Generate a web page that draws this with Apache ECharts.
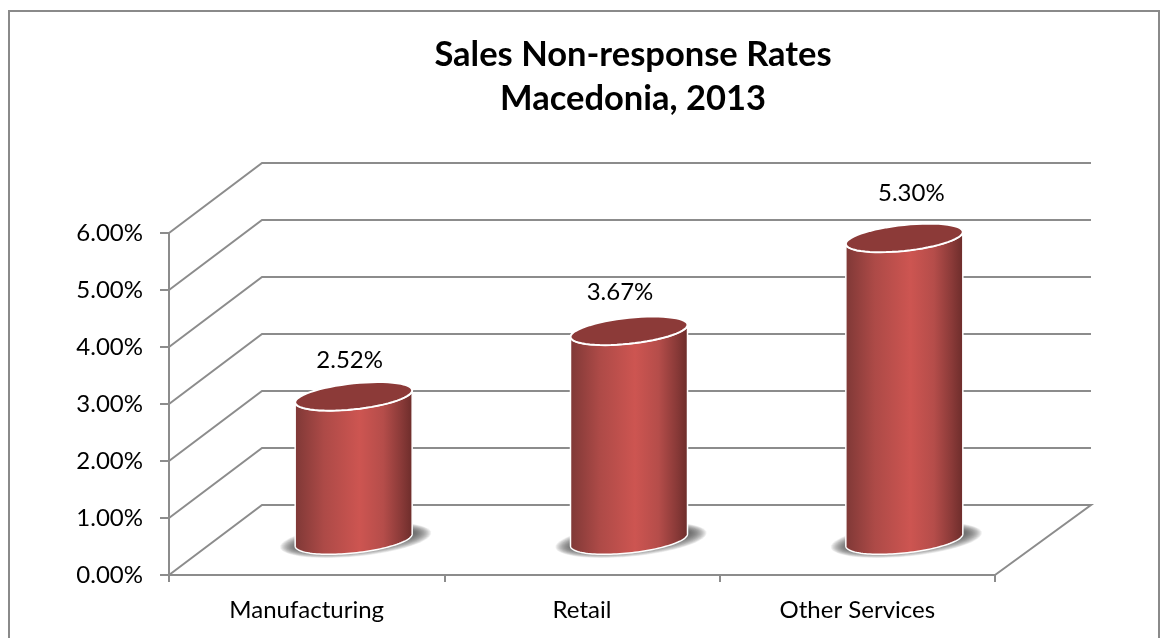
<!DOCTYPE html>
<html>
<head>
<meta charset="utf-8">
<style>html,body{margin:0;padding:0;background:#fff}#c{width:1161px;height:638px}</style>
<script src="https://cdn.jsdelivr.net/npm/echarts@6/dist/echarts.min.js"></script>
</head>
<body>
<div id="c"></div>
<script>
const categories = ['Manufacturing', 'Retail', 'Other Services'];
const rates = [2.52, 3.67, 5.30];
const yTicks = [0, 1, 2, 3, 4, 5, 6];

const FONT = 'Lato, "Open Sans", sans-serif';
const GRID = {left: 169, top: 233, width: 826, height: 342};
const DEPTH = {x: 94, y: -70, rightX: 96};
const LINE = '#8c8c8c';
const R = {a: 58.5, k: 6, h: 13};
const LABEL_SHIFT = [[-4, -36], [-9, -39], [7, -45]];
const pct = v => v.toFixed(2) + '%';

function ellipse(cx, cy, a, k, h, from, to) {
  const pts = [];
  const n = 60;
  for (let i = 0; i <= n; i++) {
    const t = from + (to - from) * i / n;
    pts.push([cx + a * Math.cos(t), cy - k * Math.cos(t) + h * Math.sin(t)]);
  }
  return pts;
}

function softShadow(cx, by) {
  const layers = [];
  for (let d = 17; d >= 0; d--) {
    layers.push({
      type: 'polygon',
      shape: {points: ellipse(cx + 2, by, R.a + d, R.k + 1, 8 + d * 0.5, 0, Math.PI * 2)},
      style: {fill: 'rgba(85,85,85,0.085)'}
    });
  }
  return layers;
}

const option = {
  animation: false,
  backgroundColor: '#fff',
  textStyle: {fontFamily: FONT},
  title: {
    text: 'Sales Non-response Rates\nMacedonia, 2013',
    left: 628, top: 28, textAlign: 'center',
    textStyle: {fontFamily: FONT, fontWeight: 'bold', fontSize: 34.5, lineHeight: 44, color: '#000'}
  },
  grid: GRID,
  xAxis: {
    type: 'category', data: categories, boundaryGap: true,
    axisLine: {show: true, lineStyle: {color: LINE, width: 2}},
    axisTick: {show: true, length: 7, lineStyle: {color: LINE, width: 2}},
    axisLabel: {fontFamily: FONT, fontSize: 24, color: '#000', margin: 23},
    splitLine: {show: false}
  },
  yAxis: {
    type: 'value', min: 0, max: 6, interval: 1,
    axisLine: {show: true, lineStyle: {color: LINE, width: 2}},
    axisTick: {show: true, length: 9, lineStyle: {color: LINE, width: 2}},
    axisLabel: {fontFamily: FONT, fontSize: 24, color: '#000', margin: 26, formatter: v => pct(v)},
    splitLine: {show: false}
  },
  graphic: [{
    type: 'rect', z: -10, silent: true,
    shape: {x: 9, y: 11, width: 1150, height: 640},
    style: {fill: 'none', stroke: '#8a8a8a', lineWidth: 2}
  }],
  series: [
    {
      type: 'custom', coordinateSystem: 'cartesian2d', silent: true, z: 1,
      data: yTicks.map(v => [0, v]),
      encode: {x: 0, y: 1},
      renderItem(params, api) {
        const y = api.coord([0, api.value(1)])[1];
        const x0 = GRID.left, x1 = GRID.left + GRID.width;
        const pts = [[x0, y], [x0 + 93, y + DEPTH.y], [x1 + DEPTH.rightX, y + DEPTH.y]];
        if (api.value(1) === 0) pts.push([x1, y]);
        return {type: 'polyline', shape: {points: pts}, style: {fill: 'none', stroke: LINE, lineWidth: 2}};
      }
    },
    {
      type: 'custom', coordinateSystem: 'cartesian2d', silent: true, z: 5,
      data: rates.map((v, i) => [i, v]),
      encode: {x: 0, y: 1},
      renderItem(params, api) {
        const i = api.value(0), v = api.value(1);
        const top = api.coord([i, v]), base = api.coord([i, 0]);
        const cx = top[0] + DEPTH.x / 2;
        const ty = top[1] + DEPTH.y / 2, by = base[1] + DEPTH.y / 2;
        const frontTop = ellipse(cx, ty, R.a, R.k, R.h, Math.PI, 0);
        const frontBot = ellipse(cx, by, R.a, R.k, R.h, 0, Math.PI);
        const sh = LABEL_SHIFT[i];
        return {
          type: 'group',
          children: softShadow(cx, by).concat([
            {
              type: 'polygon',
              shape: {points: frontTop.concat(frontBot)},
              style: {
                stroke: '#fff', lineWidth: 1.5,
                fill: {
                  type: 'linear', x: 0, y: 0, x2: 1, y2: 0,
                  colorStops: [
                    {offset: 0, color: '#7e3836'},
                    {offset: 0.25, color: '#ad4a47'},
                    {offset: 0.55, color: '#cd5551'},
                    {offset: 0.75, color: '#b54d4a'},
                    {offset: 0.9, color: '#8a3a38'},
                    {offset: 1, color: '#6b2c2a'}
                  ]
                }
              }
            },
            {
              type: 'polygon',
              shape: {points: ellipse(cx, ty, R.a, R.k, R.h, 0, Math.PI * 2)},
              style: {fill: '#8c3a38', stroke: '#fff', lineWidth: 2}
            },
            {
              type: 'text',
              style: {
                x: cx + sh[0], y: ty + sh[1], text: pct(v),
                fontFamily: FONT, fontSize: 24, fill: '#000',
                align: 'center', verticalAlign: 'middle'
              }
            }
          ])
        };
      }
    }
  ]
};
echarts.init(document.getElementById('c'), null, {renderer: 'canvas'}).setOption(option);
</script>
</body>
</html>
